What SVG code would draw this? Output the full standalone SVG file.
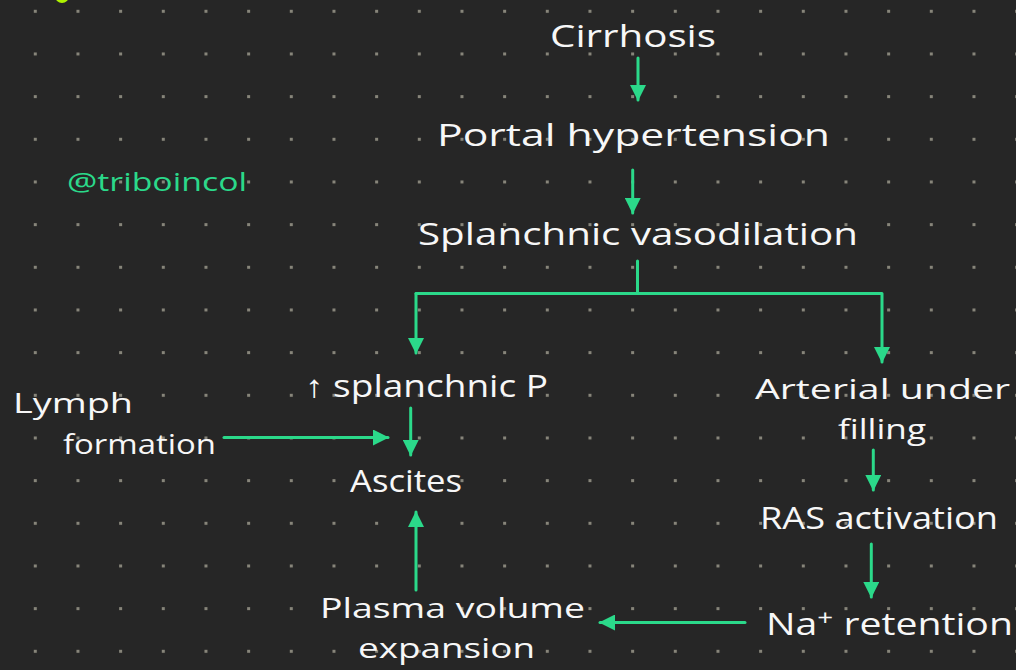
<svg xmlns="http://www.w3.org/2000/svg" width="1016" height="670" viewBox="0 0 1016 670">
<defs>
<pattern id="dots" patternUnits="userSpaceOnUse" x="33.8" y="9.8" width="42.667" height="42.667">
<rect x="0" y="0" width="3" height="3" fill="#87857a"/>
</pattern>
<marker id="ah" viewBox="0 0 16 16" refX="15" refY="8" markerWidth="16" markerHeight="16" markerUnits="userSpaceOnUse" orient="auto">
<path d="M0,0 L16,8 L0,16 z" fill="#2bd98a"/>
</marker>
<style>
.t{font-family:"Open Sans","Liberation Sans",sans-serif;font-size:31px;fill:#f7f7f7;}
.s{font-size:28px;}
.w{font-family:"Open Sans","Liberation Sans",sans-serif;font-size:26px;fill:#2bd98a;}
.c{stroke:#2bd98a;stroke-width:3;fill:none;stroke-linecap:round;stroke-linejoin:round;}
</style>
</defs>
<rect width="1016" height="670" fill="#262626"/>
<rect width="1016" height="670" fill="url(#dots)"/>
<circle cx="62" cy="-4" r="7" fill="#aef200"/>
<text class="w" x="67" y="191" textLength="180" lengthAdjust="spacingAndGlyphs">@triboincol</text>

<g id="connectors">
<line class="c" x1="638" y1="58" x2="638" y2="100" marker-end="url(#ah)"/>
<line class="c" x1="632.7" y1="170" x2="632.7" y2="213" marker-end="url(#ah)"/>
<line class="c" x1="637.5" y1="261" x2="637.5" y2="293"/>
<polyline class="c" points="416,293.5 882,293.5 882,362" marker-end="url(#ah)"/>
<line class="c" x1="416" y1="293.5" x2="416" y2="353" marker-end="url(#ah)"/>
<line class="c" x1="410.7" y1="408" x2="410.7" y2="455" marker-end="url(#ah)"/>
<line class="c" x1="224" y1="437.5" x2="388" y2="437.5" marker-end="url(#ah)"/>
<line class="c" x1="416" y1="590" x2="416" y2="512" marker-end="url(#ah)"/>
<line class="c" x1="873.3" y1="450" x2="873.3" y2="490" marker-end="url(#ah)"/>
<line class="c" x1="871.3" y1="544" x2="871.3" y2="597" marker-end="url(#ah)"/>
<line class="c" x1="745" y1="622.5" x2="600" y2="622.5" marker-end="url(#ah)"/>
</g>

<g id="cirrhosis"><text class="t" x="550" y="47" textLength="166" lengthAdjust="spacingAndGlyphs">Cirrhosis</text></g>
<g id="portal-hypertension"><text class="t" x="437" y="146" textLength="393" lengthAdjust="spacingAndGlyphs">Portal hypertension</text></g>
<g id="splanchnic-vasodilation"><text class="t" x="418" y="245" textLength="440" lengthAdjust="spacingAndGlyphs">Splanchnic vasodilation</text></g>
<g id="splanchnic-p"><text class="t" x="305" y="397" textLength="243" lengthAdjust="spacingAndGlyphs">↑ splanchnic P</text></g>
<g id="ascites"><text class="t" x="350" y="492" textLength="112" lengthAdjust="spacingAndGlyphs">Ascites</text></g>
<g id="lymph-formation">
<text class="t s" x="13" y="413" textLength="120" lengthAdjust="spacingAndGlyphs">Lymph</text>
<text class="t s" x="63" y="454" textLength="153" lengthAdjust="spacingAndGlyphs">formation</text>
</g>
<g id="plasma-volume-expansion">
<text class="t s" x="320" y="618" textLength="265" lengthAdjust="spacingAndGlyphs">Plasma volume</text>
<text class="t s" x="358" y="658" textLength="177" lengthAdjust="spacingAndGlyphs">expansion</text>
</g>
<g id="arterial-underfilling">
<text class="t s" x="755" y="399" textLength="255" lengthAdjust="spacingAndGlyphs">Arterial under</text>
<text class="t s" x="838" y="439" textLength="88" lengthAdjust="spacingAndGlyphs">filling</text>
</g>
<g id="ras-activation"><text class="t" x="760" y="529" textLength="238" lengthAdjust="spacingAndGlyphs">RAS activation</text></g>
<g id="na-retention"><text class="t" x="766" y="635" textLength="247" lengthAdjust="spacingAndGlyphs">Na<tspan dy="-10" font-size="22">+</tspan><tspan dy="10"> retention</tspan></text></g>
</svg>
